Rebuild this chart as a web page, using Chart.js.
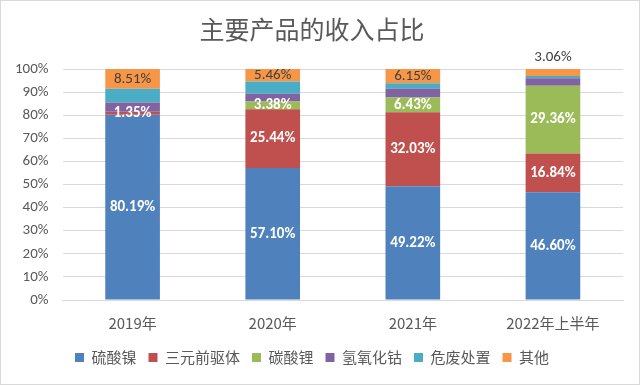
<!DOCTYPE html>
<html>
<head>
<meta charset="utf-8">
<script src="https://cdn.jsdelivr.net/npm/chart.js@4"></script>
<style>
  html, body { margin: 0; padding: 0; background: #fff; }
  #wrap { width: 638px; height: 383px; border: 1px solid #d9d9d9; position: relative; }
</style>
</head>
<body>
<div id="wrap"><canvas id="c" width="638" height="383"></canvas></div>
<script>
// 收入占比数据 (%)
const categories = ['2019年', '2020年', '2021年', '2022年上半年'];
const seriesNames = ['硫酸镍', '三元前驱体', '碳酸锂', '氢氧化钴', '危废处置', '其他'];
const nickelSulfate = [80.19, 57.10, 49.22, 46.60];
const precursor = [1.35, 25.44, 32.03, 16.84];
const lithiumCarbonate = [0, 3.38, 6.43, 29.36];
const cobaltHydroxide = [4.0, 3.4, 3.9, 3.2];
const hazardousWaste = [5.95, 5.22, 2.27, 0.94];
const others = [8.51, 5.46, 6.15, 3.06];
const yTicks = [0, 10, 20, 30, 40, 50, 60, 70, 80, 90, 100];

const colors = ['#4F81BD', '#C0504D', '#9BBB59', '#8064A2', '#4BACC6', '#F79646'];
const labelled = [true, true, true, false, false, true];
const FONT = 'Calibri, Carlito, "Noto Sans", "Noto Sans CJK SC", sans-serif';
const CJK = '"Noto Sans CJK SC", "Noto Sans", sans-serif';

const values = [nickelSulfate, precursor, lithiumCarbonate, cobaltHydroxide, hazardousWaste, others];

// 数据标签
const segmentLabels = {
    id: 'segmentLabels',
    afterDatasetsDraw(chart) {
        const ctx = chart.ctx;
        ctx.save();
        ctx.textAlign = 'center';
        ctx.textBaseline = 'middle';
        chart.data.datasets.forEach((ds, di) => {
            if (!labelled[di]) return;
            const meta = chart.getDatasetMeta(di);
            meta.data.forEach((bar, i) => {
                const v = ds.data[i];
                if (!v) return;
                const txt = v.toFixed(2) + '%';
                const isOther = di === 5;
                let y = (bar.y + bar.base) / 2;
                if (isOther && v < 4) y = bar.y - 12;
                ctx.font = (isOther ? '' : 'bold ') + '15px ' + FONT;
                ctx.fillStyle = isOther ? '#404040' : '#ffffff';
                ctx.fillText(txt, bar.x, y);
            });
        });
        ctx.restore();
    }
};

new Chart(document.getElementById('c'), {
    type: 'bar',
    data: {
        labels: categories,
        datasets: seriesNames.map((name, i) => ({
            label: name,
            data: values[i],
            backgroundColor: colors[i],
            borderWidth: 0,
            barPercentage: 0.39,
            categoryPercentage: 1
        }))
    },
    options: {
        responsive: false,
        animation: false,
        layout: { padding: { left: 0, right: 16, top: 0, bottom: 9 } },
        plugins: {
            title: {
                display: true,
                text: '主要产品的收入占比',
                color: '#595959',
                font: { family: CJK, size: 25, weight: 'normal' },
                padding: { top: 13, bottom: 25 }
            },
            legend: {
                position: 'bottom',
                labels: {
                    color: '#595959',
                    boxWidth: 9,
                    boxHeight: 9,
                    padding: 12,
                    font: { family: CJK, size: 15, lineHeight: 0.5 }
                }
            },
            tooltip: { enabled: false }
        },
        scales: {
            x: {
                stacked: true,
                grid: { display: false },
                border: { color: '#d9d9d9' },
                ticks: { color: '#595959', font: { family: CJK, size: 15 }, padding: 6 }
            },
            y: {
                stacked: true,
                min: 0,
                max: 100,
                afterBuildTicks: axis => { axis.ticks = yTicks.map(v => ({ value: v })); },
                grid: { color: '#d9d9d9', drawTicks: false },
                border: { display: false },
                ticks: {
                    color: '#595959',
                    font: { family: FONT, size: 15 },
                    padding: 14,
                    callback: v => v + '%'
                }
            }
        }
    },
    plugins: [segmentLabels]
});
</script>
</body>
</html>
